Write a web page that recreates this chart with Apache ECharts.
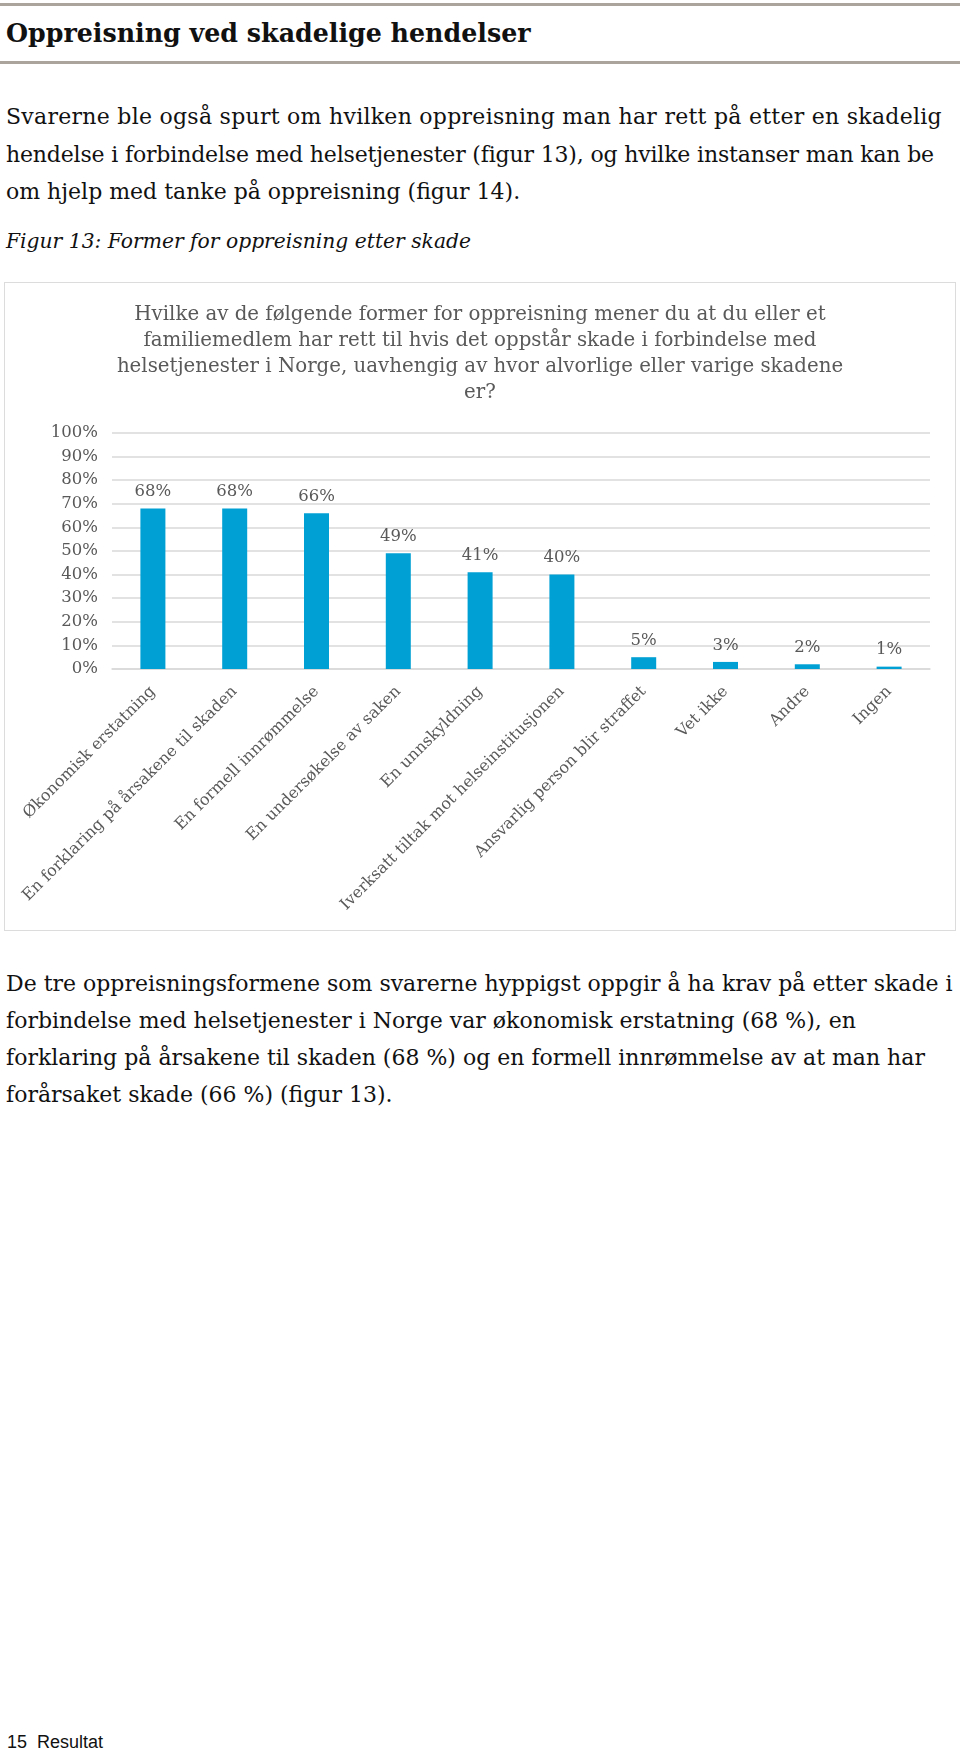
<!DOCTYPE html>
<html><head><meta charset="utf-8">
<script src="https://cdn.jsdelivr.net/npm/echarts@6/dist/echarts.min.js"></script>
<style>
html,body{margin:0;padding:0;background:#fff;width:960px;height:1750px;overflow:hidden;}
.t{position:absolute;white-space:nowrap;font-family:"DejaVu Serif",serif;color:#111;}
.t span{display:block;}
.rule{position:absolute;left:0;width:960px;height:3px;background:#aaa49c;}
#chart{position:absolute;left:4px;top:282px;width:950px;height:647px;border:1px solid #dcdcdc;}
</style></head><body>
<div class="rule" style="top:3px"></div>
<div class="t" style="left:6px;top:17px;font-size:25.3px;font-weight:bold;line-height:32px;">Oppreisning ved skadelige hendelser</div>
<div class="rule" style="top:61px"></div>
<div class="t" style="left:6px;top:98px;font-size:22px;line-height:37.5px;"><span style="letter-spacing:0.27px">Svarerne ble også spurt om hvilken oppreisning man har rett på etter en skadelig</span><span style="letter-spacing:-0.17px">hendelse i forbindelse med helsetjenester (figur 13), og hvilke instanser man kan be</span><span>om hjelp med tanke på oppreisning (figur 14).</span></div>
<div class="t" style="left:6px;top:228px;font-size:20.3px;font-style:italic;line-height:26px;">Figur 13: Former for oppreisning etter skade</div>
<div id="chart"></div>
<div class="t" style="left:6px;top:965px;font-size:22px;line-height:37px;">De tre oppreisningsformene som svarerne hyppigst oppgir å ha krav på etter skade i<br>forbindelse med helsetjenester i Norge var økonomisk erstatning (68 %), en<br>forklaring på årsakene til skaden (68 %) og en formell innrømmelse av at man har<br>forårsaket skade (66 %) (figur 13).</div>
<div class="t" style="left:7px;top:1730px;font-size:18px;font-family:'Liberation Sans',Arial,sans-serif;line-height:24px;">15&nbsp; Resultat</div>
<script>
const categories = ["Økonomisk erstatning","En forklaring på årsakene til skaden","En formell innrømmelse","En undersøkelse av saken","En unnskyldning","Iverksatt tiltak mot helseinstitusjonen","Ansvarlig person blir straffet","Vet ikke","Andre","Ingen"];
const values = [68,68,66,49,41,40,5,3,2,1];
const titleText = "Hvilke av de følgende former for oppreisning mener du at du eller et\nfamiliemedlem har rett til hvis det oppstår skade i forbindelse med\nhelsetjenester i Norge, uavhengig av hvor alvorlige eller varige skadene\ner?";
const yTicks = [0,10,20,30,40,50,60,70,80,90,100];

const chart = echarts.init(document.getElementById('chart'), null, {renderer:'canvas'});
const font = '"DejaVu Serif", serif';
chart.setOption({
  animation:false,
  title:{text:titleText,left:'center',top:14,textStyle:{fontFamily:font,fontSize:19.8,fontWeight:'normal',color:'#595959',lineHeight:26}},
  grid:{left:107,top:150,width:818,height:236,containLabel:false},
  xAxis:{type:'category',data:categories,axisTick:{show:false},axisLine:{show:true,lineStyle:{color:'#d9d9d9',width:1.5}},
    axisLabel:{rotate:45,interval:0,fontFamily:font,fontSize:16,color:'#595959',margin:20}},
  yAxis:{type:'value',min:yTicks[0],max:yTicks[yTicks.length-1],interval:10,axisLine:{show:false},axisTick:{show:false},
    splitLine:{lineStyle:{color:'#d9d9d9',width:1.5}},
    axisLabel:{formatter:v=>v+'%',fontFamily:font,fontSize:16.5,color:'#595959',margin:14}},
  series:[{type:'bar',data:values,barWidth:25,itemStyle:{color:'#00a0d4'},
    label:{show:true,position:'top',distance:8,formatter:p=>p.value+'%',fontFamily:font,fontSize:16.5,color:'#595959'}}]
});
</script>
</body></html>
